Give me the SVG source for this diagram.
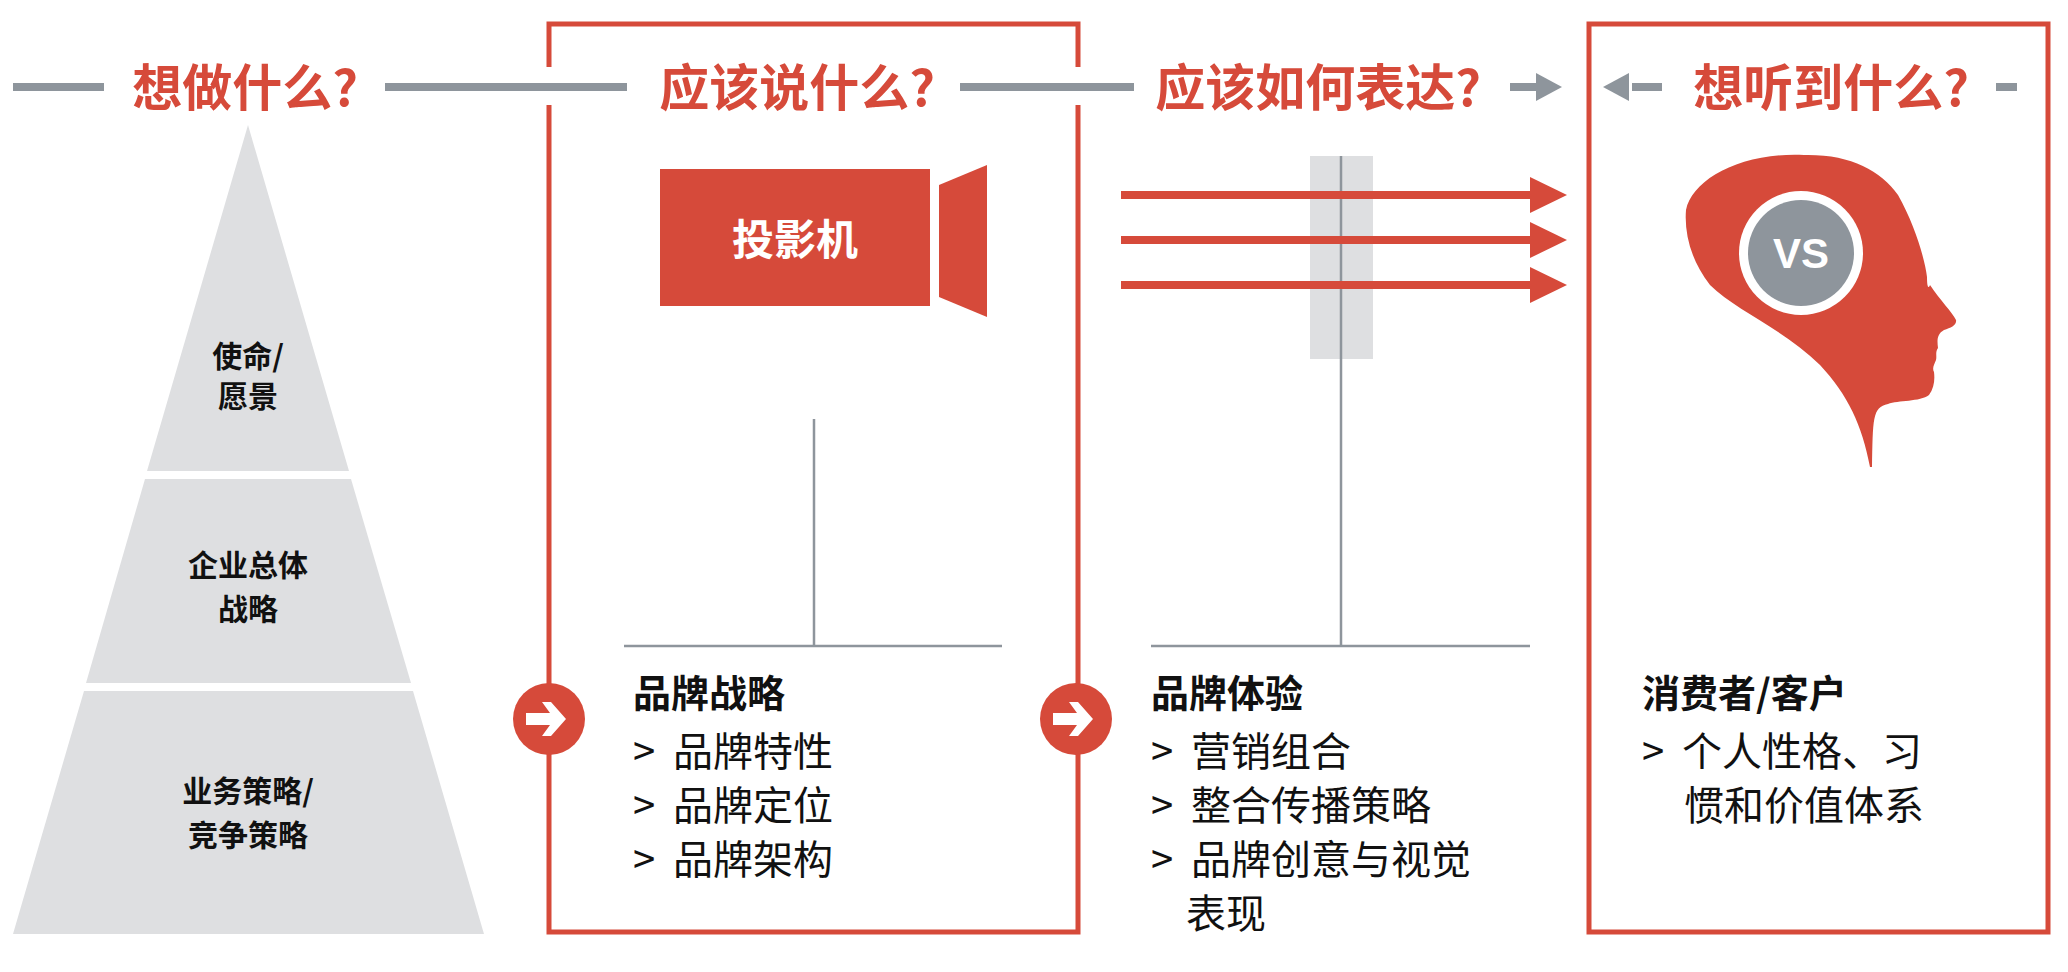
<svg xmlns="http://www.w3.org/2000/svg" width="2068" height="972" viewBox="0 0 2068 972">
<style>
.t{font-family:"Noto Sans CJK SC","Liberation Sans",sans-serif;font-weight:bold;fill:#D64A3A;font-size:50px;text-anchor:middle}
.p{font-family:"Noto Sans CJK SC","Liberation Sans",sans-serif;font-weight:bold;fill:#111;font-size:30px;text-anchor:middle}
.b{font-family:"Noto Sans CJK SC","Liberation Sans",sans-serif;fill:#111;font-size:40px}
.bb{font-weight:bold;font-size:38px}
.g{stroke:#8E959C;stroke-width:8;fill:none}
.r{fill:#D64A3A}
.box{stroke:#D64A3A;stroke-width:5;fill:none}
.thin{stroke:#8E959C;stroke-width:2.5;fill:none}
</style>
<rect width="2068" height="972" fill="#fff"/>
<g id="connectors">
<path class="g" d="M13 87H104M385 87H627M960 87H1134M1510 87H1540M1996 87H2017M1632 87H1662"/>
<polygon fill="#8E959C" points="1536,73 1562,87 1536,101"/>
<polygon fill="#8E959C" points="1629,73 1603,87 1629,101"/>
<g class="r">
<rect x="1121" y="191" width="412" height="8"/><polygon points="1530,177 1567,195 1530,213"/>
<rect x="1121" y="236" width="412" height="8"/><polygon points="1530,222 1567,240 1530,258"/>
<rect x="1121" y="281" width="412" height="8"/><polygon points="1530,267 1567,285 1530,303"/>
</g>
</g>
<g id="titles">
<text class="t" x="245" y="106">想做什么?</text>
<text class="t" x="797" y="106">应该说什么?</text>
<text class="t" x="1318" y="106">应该如何表达?</text>
<text class="t" x="1831" y="106">想听到什么?</text>
</g>
<g id="pyramid">
<polygon fill="#DEDFE1" points="248,125 349,471 147,471"/>
<polygon fill="#DEDFE1" points="145,479 351,479 411,683 86,683"/>
<polygon fill="#DEDFE1" points="84,691 413,691 484,934 13,934"/>
<text class="p" x="248" y="367">使命/</text><text class="p" x="248" y="407">愿景</text>
<text class="p" x="248" y="576">企业总体</text><text class="p" x="248" y="620">战略</text>
<text class="p" x="248" y="802">业务策略/</text><text class="p" x="248" y="846">竞争策略</text>
</g>
<g id="box-strategy">
<path class="box" d="M549 67V24H1078V67M549 105V932H1078V105"/>
<rect class="r" x="660" y="169" width="270" height="137"/>
<polygon class="r" points="939,185 987,165 987,317 939,297"/>
<text x="795" y="255" font-family="Noto Sans CJK SC,sans-serif" font-weight="bold" font-size="42" fill="#fff" text-anchor="middle">投影机</text>
<path class="thin" d="M814 419V646M624 646H1002"/>
<text class="b" x="633" y="707"><tspan class="bb">品牌战略</tspan><tspan x="633" y="766">&gt;&#160; 品牌特性</tspan><tspan x="633" y="820">&gt;&#160; 品牌定位</tspan><tspan x="633" y="874">&gt;&#160; 品牌架构</tspan></text>
</g>
<g id="icon1">
<circle class="r" cx="549" cy="719" r="36"/>
<polygon fill="#fff" points="526,713 550,713 542,702 551,702 566,719 551,736 542,736 550,725 526,725"/>
</g>
<g id="icon2">
<circle class="r" cx="1076" cy="719" r="36"/>
<polygon fill="#fff" points="1053,713 1077,713 1069,702 1078,702 1093,719 1078,736 1069,736 1077,725 1053,725"/>
</g>
<g id="expression">
<rect x="1310" y="156" width="63" height="203" fill="#DEDFE1"/>
<path class="thin" d="M1341 156V646M1151 646H1530"/>
<g class="r">
<rect x="1121" y="191" width="412" height="8"/><rect x="1121" y="236" width="412" height="8"/><rect x="1121" y="281" width="412" height="8"/>
</g>
<text class="b" x="1151" y="707"><tspan class="bb">品牌体验</tspan><tspan x="1151" y="766">&gt;&#160; 营销组合</tspan><tspan x="1151" y="820">&gt;&#160; 整合传播策略</tspan><tspan x="1151" y="874">&gt;&#160; 品牌创意与视觉</tspan><tspan x="1186" y="928">表现</tspan></text>
</g>
<g id="box-consumer">
<path class="box" d="M1589 24H2048V932H1589Z"/>
<path class="r" d="M1804 155C1850 154 1880 170 1898 195C1915 225 1925 260 1927 277C1927 285 1928 290 1930 285C1940 300 1952 312 1956 320C1957 325 1951 328 1944 330C1937 334 1937 340 1938 348C1935 352 1937 356 1936 360C1934 365 1932 368 1934 372C1935 380 1934 388 1929 395C1920 402 1898 400 1888 404C1872 407 1873 420 1872 467L1870 467C1862 425 1848 395 1820 365C1785 330 1735 310 1710 285C1692 262 1684 235 1686 210C1692 180 1740 152 1804 155Z"/>
<circle cx="1801" cy="253" r="62" fill="#fff"/>
<circle cx="1801" cy="253" r="53" fill="#8E959C"/>
<text x="1801" y="268" font-family="Liberation Sans,sans-serif" font-weight="bold" font-size="42" fill="#fff" text-anchor="middle">VS</text>
<text class="b" x="1642" y="707"><tspan class="bb">消费者/客户</tspan><tspan x="1642" y="766">&gt;&#160; 个人性格、习</tspan><tspan x="1684" y="820">惯和价值体系</tspan></text>
</g>
</svg>
